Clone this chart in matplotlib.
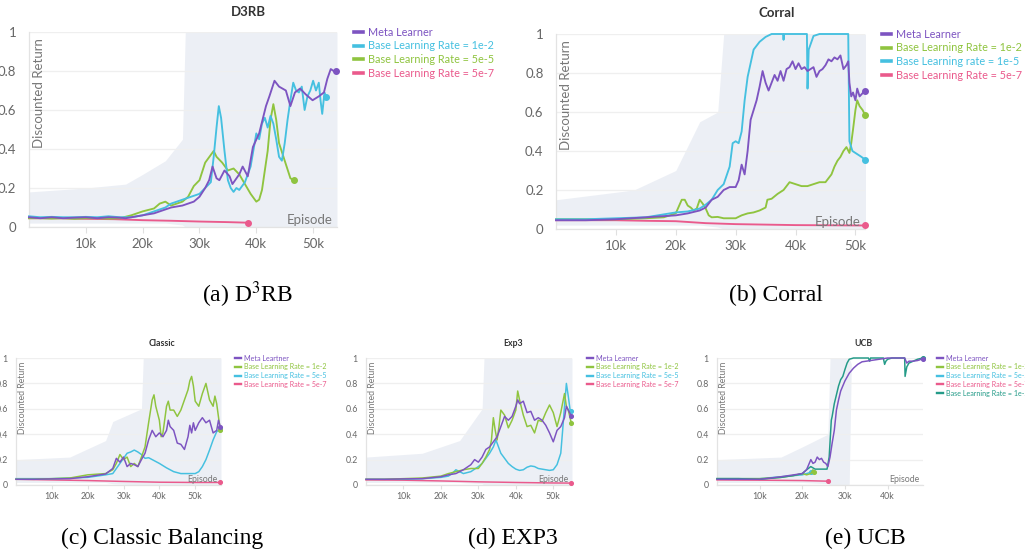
import matplotlib as mpl
mpl.use('Agg')
import matplotlib.pyplot as plt
from matplotlib.lines import Line2D

plt.rcParams['font.family'] = ['Lato', 'DejaVu Sans']
plt.rcParams['mathtext.fontset'] = 'stix'

#
#--- colours (wandb style)
#
c_meta  = '#7d54c1'
c_cyan  = '#45c0e0'
c_green = '#8fc43f'
c_pink  = '#ea5a8c'
c_teal  = '#249b88'
c_noise = '#bcc7dd'

#
#--- data: episodes in thousands, discounted return
#
#--- (a) D3RB
d3rb_meta_x  = [0, 2, 4, 6, 8, 10, 12, 14, 16, 17, 18, 20, 22, 24, 25, 26, 27, 28, 29, 30, 31, 31.7, 32.3, 33,
                33.5, 34.4, 35.3, 35.8, 37, 37.6, 38.5, 39.4, 40.5, 41.7, 42.3, 43.2, 44, 45.2, 46, 46.8, 47.7,
                48.7, 49.9, 51, 51.9, 52.5, 53.1, 53.6, 54.1]
d3rb_meta_y  = [0.05, 0.045, 0.05, 0.045, 0.048, 0.05, 0.045, 0.05, 0.048, 0.045, 0.05, 0.06, 0.07, 0.09, 0.1,
                0.105, 0.11, 0.12, 0.13, 0.155, 0.2, 0.24, 0.31, 0.25, 0.24, 0.29, 0.26, 0.22, 0.27, 0.31, 0.26,
                0.41, 0.48, 0.62, 0.67, 0.75, 0.72, 0.70, 0.62, 0.69, 0.71, 0.68, 0.65, 0.67, 0.69, 0.76, 0.81,
                0.8, 0.8]
d3rb_c1_x    = [0, 2, 4, 6, 8, 10, 12, 14, 16, 18, 20, 22, 24, 25, 27, 28.5, 30, 31, 32, 32.5, 33, 33.4, 33.8,
                34.4, 35, 35.5, 36, 36.5, 37, 38, 39, 40, 40.5, 41, 41.5, 42, 42.5, 43, 43.5, 44, 44.5, 45, 45.5,
                46, 46.5, 47, 47.5, 48, 48.5, 49, 49.5, 50, 50.5, 51, 51.3, 51.6, 52, 52.3]
d3rb_c1_y    = [0.055, 0.05, 0.052, 0.05, 0.05, 0.052, 0.05, 0.055, 0.05, 0.05, 0.06, 0.08, 0.1, 0.12, 0.14,
                0.155, 0.17, 0.2, 0.23, 0.36, 0.51, 0.62, 0.56, 0.39, 0.24, 0.2, 0.18, 0.2, 0.19, 0.23, 0.31,
                0.48, 0.45, 0.53, 0.56, 0.51, 0.57, 0.53, 0.45, 0.36, 0.34, 0.43, 0.55, 0.65, 0.74, 0.70, 0.69,
                0.72, 0.60, 0.67, 0.70, 0.75, 0.70, 0.74, 0.65, 0.58, 0.69, 0.665]
d3rb_c2_x    = [0, 2, 4, 6, 8, 10, 12, 14, 16, 18, 20, 22, 23, 24, 25, 26, 27, 28, 29, 30, 31, 32, 32.5, 33,
                34, 35, 36, 37, 38, 39, 40, 40.5, 41, 42, 42.5, 43, 43.5, 44, 45, 46, 46.6]
d3rb_c2_y    = [0.045, 0.045, 0.043, 0.045, 0.042, 0.045, 0.045, 0.043, 0.045, 0.06, 0.08, 0.095, 0.12, 0.13,
                0.11, 0.12, 0.13, 0.155, 0.21, 0.24, 0.33, 0.37, 0.39, 0.36, 0.33, 0.29, 0.30, 0.27, 0.22, 0.17,
                0.13, 0.14, 0.19, 0.39, 0.55, 0.63, 0.55, 0.43, 0.34, 0.25, 0.24]
d3rb_c3_x    = [0, 5, 10, 15, 20, 25, 30, 35, 38.6]
d3rb_c3_y    = [0.045, 0.045, 0.042, 0.04, 0.035, 0.032, 0.028, 0.025, 0.022]
d3rb_noise_x  = [0, 10, 17, 20, 24, 27, 27.5, 54.2]
d3rb_noise_hi = [0.18, 0.2, 0.22, 0.27, 0.34, 0.45, 1.0, 1.0]
d3rb_noise_lo = [0.02, 0.02, 0.02, 0.02, 0.02, 0.01, 0.0, 0.0]

#--- (b) Corral
corral_meta_x = [0, 5, 10, 15, 20, 22, 24, 25, 26, 27, 28, 29, 30, 30.5, 31, 31.5, 32, 32.5, 33, 33.5, 34,
                 34.5, 35, 35.5, 36, 36.5, 37, 37.5, 38, 38.5, 39, 39.5, 40, 40.5, 41, 41.5, 42, 42.5, 43, 43.5,
                 44, 44.5, 45, 45.5, 46, 46.5, 47, 47.5, 48, 48.5, 48.8, 49, 49.3, 49.6, 50, 50.3, 50.7, 51, 51.6]
corral_meta_y = [0.045, 0.045, 0.05, 0.06, 0.07, 0.08, 0.095, 0.11, 0.15, 0.165, 0.2, 0.215, 0.215, 0.25,
                 0.33, 0.28, 0.40, 0.56, 0.61, 0.66, 0.73, 0.81, 0.75, 0.71, 0.75, 0.79, 0.76, 0.81, 0.76, 0.82,
                 0.83, 0.86, 0.82, 0.85, 0.82, 0.83, 0.81, 0.82, 0.83, 0.78, 0.81, 0.82, 0.84, 0.87, 0.86, 0.88,
                 0.87, 0.89, 0.82, 0.84, 0.86, 0.75, 0.68, 0.70, 0.66, 0.72, 0.68, 0.69, 0.71]
corral_c1_x   = [0, 5, 10, 15, 18, 20, 21, 21.5, 22, 22.5, 23, 23.5, 24, 24.5, 25, 25.5, 26, 27, 28, 29, 30,
                 31, 32, 33, 34, 35, 35.3, 36, 37, 38, 38.5, 39, 40, 41, 42, 43, 44, 45, 46, 46.5, 47, 47.5, 48,
                 48.5, 49, 49.3, 49.6, 50, 50.3, 50.7, 51.2, 51.6]
corral_c1_y   = [0.05, 0.05, 0.05, 0.055, 0.06, 0.08, 0.15, 0.15, 0.12, 0.11, 0.095, 0.105, 0.15, 0.13, 0.105,
                 0.07, 0.06, 0.062, 0.055, 0.055, 0.055, 0.07, 0.08, 0.085, 0.095, 0.11, 0.15, 0.155, 0.18, 0.2,
                 0.22, 0.24, 0.23, 0.22, 0.22, 0.23, 0.24, 0.24, 0.28, 0.32, 0.35, 0.37, 0.40, 0.42, 0.39, 0.44,
                 0.51, 0.61, 0.66, 0.63, 0.61, 0.585]
corral_c2_x   = [0, 5, 10, 15, 19, 20, 22, 24, 25, 26, 27, 28, 29, 29.5, 30, 30.5, 31, 31.5, 32, 32.5, 33, 34,
                 35, 36, 37.9, 38, 38.1, 41.9, 42, 42.2, 43, 44, 48.8, 49, 49.5, 50, 51, 51.6]
corral_c2_y   = [0.05, 0.05, 0.055, 0.06, 0.08, 0.085, 0.09, 0.105, 0.125, 0.15, 0.2, 0.23, 0.32, 0.44, 0.45,
                 0.44, 0.5, 0.66, 0.78, 0.85, 0.92, 0.96, 0.985, 1.0, 1.0, 0.97, 1.0, 1.0, 0.72, 0.92, 0.99, 1.0,
                 1.0, 0.45, 0.40, 0.39, 0.37, 0.356]
corral_c3_x   = [0, 5, 10, 15, 20, 25, 30, 40, 51.6]
corral_c3_y   = [0.045, 0.045, 0.045, 0.042, 0.04, 0.03, 0.025, 0.02, 0.018]
corral_noise_x  = [0, 13, 20, 24, 27, 28, 51.8]
corral_noise_hi = [0.15, 0.2, 0.3, 0.55, 0.6, 1.0, 1.0]
corral_noise_lo = [0.02, 0.02, 0.02, 0.02, 0.01, 0.0, 0.0]

#--- (c) Classic
classic_meta_x = [0, 5, 10, 15, 20, 25, 27, 28, 29, 30, 31, 32, 33, 34, 35, 36, 37, 38, 39, 40, 41, 42, 42.5,
                  43, 44, 45, 46, 47, 48, 48.5, 49, 49.5, 50, 51, 52, 53, 54, 55, 56, 56.5, 57]
classic_meta_y = [0.045, 0.045, 0.048, 0.05, 0.065, 0.087, 0.13, 0.21, 0.18, 0.22, 0.145, 0.17, 0.16, 0.145,
                  0.2, 0.25, 0.355, 0.43, 0.38, 0.41, 0.38, 0.43, 0.51, 0.46, 0.43, 0.33, 0.32, 0.28, 0.38, 0.47,
                  0.41, 0.49, 0.43, 0.49, 0.53, 0.49, 0.51, 0.41, 0.43, 0.51, 0.46]
classic_c1_x   = [0, 5, 10, 15, 20, 25, 27, 28, 29, 30, 31, 32, 33, 34, 35, 36, 37, 38, 38.5, 39, 40, 40.5,
                  41, 42, 42.5, 43, 44, 45, 46, 47, 48, 48.5, 49, 49.5, 50, 51, 52, 53, 54, 55, 55.5, 56, 57]
classic_c1_y   = [0.045, 0.045, 0.05, 0.055, 0.08, 0.09, 0.12, 0.17, 0.24, 0.2, 0.22, 0.145, 0.17, 0.145, 0.22,
                  0.30, 0.49, 0.67, 0.71, 0.62, 0.51, 0.38, 0.41, 0.62, 0.66, 0.59, 0.59, 0.54, 0.59, 0.67, 0.75,
                  0.82, 0.855, 0.78, 0.66, 0.62, 0.72, 0.80, 0.67, 0.62, 0.70, 0.64, 0.43]
classic_c2_x   = [0, 5, 10, 15, 20, 25, 27, 29, 30, 31, 32, 33, 34, 35, 36, 37, 38, 40, 42, 44, 46, 48, 50,
                  51, 52, 53, 54, 55, 56, 57]
classic_c2_y   = [0.05, 0.05, 0.05, 0.055, 0.06, 0.08, 0.09, 0.17, 0.21, 0.25, 0.26, 0.275, 0.26, 0.24, 0.21,
                  0.215, 0.2, 0.17, 0.135, 0.105, 0.09, 0.09, 0.09, 0.105, 0.145, 0.2, 0.275, 0.355, 0.42, 0.44]
classic_c3_x   = [0, 10, 20, 30, 40, 50, 57]
classic_c3_y   = [0.045, 0.04, 0.035, 0.028, 0.022, 0.02, 0.02]
classic_noise_x  = [0, 15, 25, 27, 35, 35.5, 57.2]
classic_noise_hi = [0.2, 0.22, 0.35, 0.5, 0.6, 1.0, 1.0]
classic_noise_lo = [0.02, 0.02, 0.02, 0.01, 0.0, 0.0, 0.0]

#--- (d) Exp3
exp3_meta_x = [0, 5, 10, 15, 20, 22, 24, 26, 28, 29, 30, 31, 32, 33, 34, 35, 35.5, 36, 37, 38, 39, 40, 40.5,
               41, 42, 43, 44, 45, 46, 47, 48, 49, 50, 51, 52, 53, 53.5, 54, 54.8]
exp3_meta_y = [0.045, 0.045, 0.048, 0.05, 0.065, 0.08, 0.09, 0.12, 0.16, 0.2, 0.18, 0.22, 0.28, 0.30, 0.34,
               0.38, 0.42, 0.46, 0.54, 0.51, 0.54, 0.62, 0.67, 0.64, 0.66, 0.57, 0.58, 0.51, 0.53, 0.51, 0.47,
               0.41, 0.34, 0.43, 0.46, 0.53, 0.62, 0.59, 0.545]
exp3_c1_x   = [0, 5, 10, 15, 20, 22, 24, 26, 28, 30, 31, 32, 33, 33.5, 34, 34.5, 35, 35.5, 36, 37, 38, 39, 40,
               40.5, 41, 42, 43, 44, 45, 46, 47, 48, 49, 50, 51, 52, 53, 53.5, 54, 54.8]
exp3_c1_y   = [0.045, 0.045, 0.05, 0.055, 0.07, 0.09, 0.105, 0.12, 0.13, 0.13, 0.17, 0.22, 0.28, 0.355, 0.53,
               0.43, 0.355, 0.46, 0.59, 0.55, 0.45, 0.51, 0.59, 0.74, 0.67, 0.55, 0.46, 0.47, 0.41, 0.51, 0.50,
               0.57, 0.63, 0.57, 0.46, 0.57, 0.72, 0.62, 0.59, 0.49]
exp3_c2_x   = [0, 5, 10, 15, 20, 22, 23, 24, 26, 28, 30, 31, 32, 33, 34, 34.7, 35, 36, 37, 38, 39, 40, 41, 42,
               43, 44, 45, 46, 47, 48, 49, 50, 51, 52, 52.5, 53, 53.5, 54, 54.5, 54.8]
exp3_c2_y   = [0.045, 0.045, 0.045, 0.05, 0.06, 0.07, 0.09, 0.12, 0.09, 0.105, 0.145, 0.17, 0.21, 0.25, 0.30,
               0.355, 0.33, 0.25, 0.21, 0.17, 0.145, 0.125, 0.115, 0.12, 0.14, 0.15, 0.145, 0.13, 0.125, 0.12,
               0.115, 0.12, 0.16, 0.25, 0.43, 0.62, 0.80, 0.70, 0.59, 0.58]
exp3_c3_x   = [0, 10, 20, 30, 40, 50, 54.8]
exp3_c3_y   = [0.04, 0.038, 0.032, 0.025, 0.02, 0.016, 0.015]
exp3_noise_x  = [0, 15, 25, 31, 31.5, 55]
exp3_noise_hi = [0.22, 0.25, 0.35, 0.6, 1.0, 1.0]
exp3_noise_lo = [0.02, 0.02, 0.02, 0.01, 0.0, 0.0]

#--- (e) UCB
ucb_meta_x = [0, 5, 10, 15, 18, 20, 21, 22, 22.5, 23, 23.5, 24, 24.5, 25, 25.5, 26, 26.5, 27, 27.5, 28, 28.5,
              29, 29.5, 30, 31, 32, 33, 34, 35, 36, 38, 40, 44, 44.5, 45, 46, 47, 47.5, 48.2]
ucb_meta_y = [0.045, 0.045, 0.045, 0.065, 0.08, 0.09, 0.12, 0.2, 0.17, 0.18, 0.22, 0.2, 0.21, 0.18, 0.17,
              0.145, 0.22, 0.33, 0.43, 0.59, 0.67, 0.74, 0.78, 0.82, 0.88, 0.92, 0.95, 0.97, 0.975, 0.98, 0.99,
              1.0, 1.0, 0.96, 0.975, 0.975, 0.98, 0.985, 0.995]
ucb_c1_x   = [0, 5, 10, 15, 18, 20, 21, 22, 22.5, 22.7]
ucb_c1_y   = [0.05, 0.05, 0.05, 0.06, 0.075, 0.09, 0.08, 0.09, 0.12, 0.105]
ucb_c2_x   = [0, 10, 20, 22]
ucb_c2_y   = [0.05, 0.05, 0.08, 0.1]
ucb_c3_x   = [0, 10, 20, 26]
ucb_c3_y   = [0.04, 0.038, 0.035, 0.03]
ucb_c4_x   = [0, 5, 10, 15, 18, 20, 21, 22, 23, 25.8, 26.3, 26.8, 27, 27.5, 28, 28.5, 29, 29.5, 30, 30.5, 31, 32,
              35.5, 35.8, 36, 39, 39.3, 39.6, 40, 41, 44, 44.1, 44.5, 45, 46, 47, 48.2]
ucb_c4_y   = [0.05, 0.05, 0.045, 0.06, 0.075, 0.09, 0.12, 0.145, 0.125, 0.125, 0.22, 0.51, 0.54, 0.64, 0.71,
              0.78, 0.83, 0.855, 0.91, 0.96, 0.99, 1.0, 1.0, 0.975, 1.0, 1.0, 0.95, 0.975, 0.99, 1.0, 1.0, 0.855,
              0.93, 0.96, 0.975, 0.99, 1.0]
ucb_noise_x  = [0, 15, 20, 26, 26.5, 31, 31.5]
ucb_noise_hi = [0.2, 0.22, 0.3, 0.4, 1.0, 1.0, 0.95]
ucb_noise_lo = [0.02, 0.02, 0.02, 0.01, 0.0, 0.0, 0.95]

#---------------------------------------------------------------------------------------
#-- draw_panel: draw one wandb style panel
#---------------------------------------------------------------------------------------

def draw_panel(ax, series, noise, xmax, xticks, title, tpos, leg_x, small=False):
    s     = 0.66 if small else 1.0
    lw    = 1.35 * (0.8 if small else 1.0)
    tfs   = 9.5 * s
#
#--- faint raw data band
#
    nx, nlo, nhi = noise
    ax.fill_between(nx, nlo, nhi, color=c_noise, alpha=0.28, lw=0, zorder=1)
#
#--- smoothed runs
#
    handles = []
    for xs, ys, color, z in series:
        ax.plot(xs, ys, color=color, lw=lw, zorder=z, clip_on=False)
        ax.plot(xs[-1], ys[-1], 'o', color=color, ms=4 * s, zorder=z, clip_on=False)
        handles.append(Line2D([], [], color=color, lw=2.6 * s))

    ax.set_xlim(0, xmax)
    ax.set_ylim(0, 1)
    ax.set_xticks(xticks)
    ax.set_xticklabels([f'{v}k' for v in xticks])
    ax.set_yticks([0, 0.2, 0.4, 0.6, 0.8, 1.0])
    ax.set_yticklabels(['0', '0.2', '0.4', '0.6', '0.8', '1'])
    ax.grid(axis='y', color='#efefef', lw=0.9, zorder=0)
    for side in ['top', 'right']:
        ax.spines[side].set_visible(False)
    for side in ['left', 'bottom']:
        ax.spines[side].set_color('#e3e3e3')
        ax.spines[side].set_linewidth(0.9)
    ax.tick_params(axis='x', colors='#e0e0e0', labelcolor='#666666', labelsize=tfs,
                   length=4.5 * s, width=0.8, pad=3.5 * s)
    ax.tick_params(axis='y', colors='#e0e0e0', labelcolor='#666666', labelsize=tfs,
                   length=0, pad=9 * s)
#
#--- labels inside the plot
#
    ax.text(0.012, 0.97, 'Discounted Return', rotation=90, ha='left', va='top',
            color='#777777', fontsize=9.5 * s, transform=ax.transAxes, zorder=5)
    ax.text(0.985, 0.005, 'Episode', ha='right', va='bottom', color='#777777',
            fontsize=9.5 * s, transform=ax.transAxes, zorder=5)
#
#--- title and legend
#
    ax.figure.text(tpos[0], tpos[1], title, ha='center', va='center', fontsize=9.5 * s,
                   fontweight='bold', color='#333333')
    return handles

def add_legend(ax, handles, labels, leg_x, small=False):
    s = 0.66 if small else 1.0
    ax.legend(handles=handles, labels=labels, loc='upper left', bbox_to_anchor=(leg_x, 1.027),
              frameon=False, fontsize=7.8 * s, labelcolor='linecolor', handlelength=0.8,
              handletextpad=0.5, labelspacing=0.25, borderpad=0, borderaxespad=0)

#---------------------------------------------------------------------------------------

W, H = 1025, 552
fig = plt.figure(figsize=(W / 100, H / 100), dpi=100)

def axes_px(x0, x1, ytop, ybot):
    return fig.add_axes([x0 / W, (H - ybot) / H, (x1 - x0) / W, (ybot - ytop) / H])

lab4 = ['Meta Learner', 'Base Learning Rate = 1e-2', 'Base Learning Rate = 5e-5', 'Base Learning Rate = 5e-7']

#
#--- (a) D3RB
#
ax_a = axes_px(29, 337, 32, 227)
h = draw_panel(ax_a,
               [(d3rb_meta_x, d3rb_meta_y, c_meta, 6),
                (d3rb_c1_x, d3rb_c1_y, c_cyan, 5),
                (d3rb_c2_x, d3rb_c2_y, c_green, 4),
                (d3rb_c3_x, d3rb_c3_y, c_pink, 3)],
               (d3rb_noise_x, d3rb_noise_lo, d3rb_noise_hi), 54.2, [10, 20, 30, 40, 50],
               'D3RB', (248 / W, 1 - 12 / H), 1.055)
add_legend(ax_a, h, lab4, 1.055)
#
#--- (b) Corral
#
ax_b = axes_px(556, 865, 34, 229)
h = draw_panel(ax_b,
               [(corral_meta_x, corral_meta_y, c_meta, 6),
                (corral_c1_x, corral_c1_y, c_green, 4),
                (corral_c2_x, corral_c2_y, c_cyan, 5),
                (corral_c3_x, corral_c3_y, c_pink, 3)],
               (corral_noise_x, corral_noise_lo, corral_noise_hi), 51.6, [10, 20, 30, 40, 50],
               'Corral', (777 / W, 1 - 13 / H), 1.055)
add_legend(ax_b, h, ['Meta Learner', 'Base Learning Rate = 1e-2', 'Base Learning rate = 1e-5',
                     'Base Learning Rate = 5e-7'], 1.055)
#
#--- (c) Classic
#
ax_c = axes_px(16, 221, 358, 485)
h = draw_panel(ax_c,
               [(classic_meta_x, classic_meta_y, c_meta, 6),
                (classic_c1_x, classic_c1_y, c_green, 5),
                (classic_c2_x, classic_c2_y, c_cyan, 4),
                (classic_c3_x, classic_c3_y, c_pink, 3)],
               (classic_noise_x, classic_noise_lo, classic_noise_hi), 57.2, [10, 20, 30, 40, 50],
               'Classic', (162 / W, 1 - 344 / H), 1.068, small=True)
add_legend(ax_c, h, ['Meta Leartner'] + lab4[1:], 1.068, small=True)
#
#--- (d) Exp3
#
ax_d = axes_px(366, 572, 358, 485)
h = draw_panel(ax_d,
               [(exp3_meta_x, exp3_meta_y, c_meta, 6),
                (exp3_c1_x, exp3_c1_y, c_green, 5),
                (exp3_c2_x, exp3_c2_y, c_cyan, 4),
                (exp3_c3_x, exp3_c3_y, c_pink, 3)],
               (exp3_noise_x, exp3_noise_lo, exp3_noise_hi), 55, [10, 20, 30, 40, 50],
               'Exp3', (513 / W, 1 - 344 / H), 1.073, small=True)
add_legend(ax_d, h, lab4, 1.073, small=True)
#
#--- (e) UCB
#
ax_e = axes_px(717, 923, 358, 485)
h = draw_panel(ax_e,
               [(ucb_meta_x, ucb_meta_y, c_meta, 6),
                (ucb_c1_x, ucb_c1_y, c_green, 4),
                (ucb_c2_x, ucb_c2_y, c_cyan, 3),
                (ucb_c3_x, ucb_c3_y, c_pink, 3),
                (ucb_c4_x, ucb_c4_y, c_teal, 5)],
               (ucb_noise_x, ucb_noise_lo, ucb_noise_hi), 48.3, [10, 20, 30, 40],
               'UCB', (863 / W, 1 - 344 / H), 1.068, small=True)
add_legend(ax_e, h, lab4 + ['Base Learning Rate = 1e-5'], 1.068, small=True)

#
#--- sub captions
#
cap = dict(ha='center', va='center', fontsize=17, family='Liberation Serif', color='black')
fig.text(248 / W, 1 - 295 / H, '(a) D$^3$RB', **cap)
fig.text(776 / W, 1 - 295 / H, '(b) Corral', **cap)
fig.text(162 / W, 1 - 538 / H, '(c) Classic Balancing', **cap)
fig.text(513 / W, 1 - 538 / H, '(d) EXP3', **cap)
fig.text(865 / W, 1 - 538 / H, '(e) UCB', **cap)

plt.savefig('out.png', dpi=100)
plt.close('all')
